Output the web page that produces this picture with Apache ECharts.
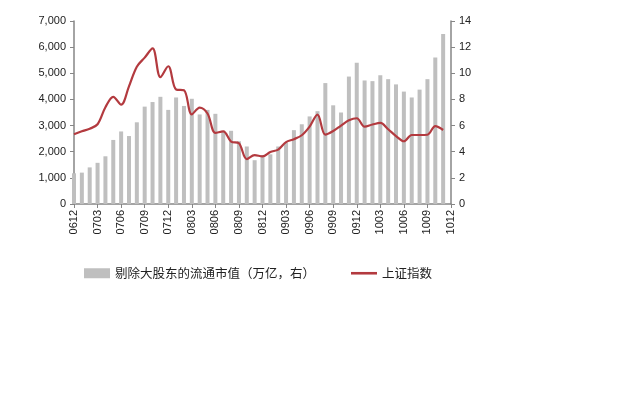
<!DOCTYPE html>
<html>
<head>
<meta charset="utf-8">
<script src="https://cdn.jsdelivr.net/npm/echarts@6/dist/echarts.min.js"></script>
<style>
  html, body { margin: 0; padding: 0; background: #fff; }
  #chart { width: 640px; height: 400px; }
</style>
</head>
<body>
<div id="chart"></div>
<script>
// months 0612 .. 1012
var months = [
    "0612",
    "0701", "0702", "0703", "0704", "0705", "0706", "0707", "0708", "0709", "0710", "0711", "0712",
    "0801", "0802", "0803", "0804", "0805", "0806", "0807", "0808", "0809", "0810", "0811", "0812",
    "0901", "0902", "0903", "0904", "0905", "0906", "0907", "0908", "0909", "0910", "0911", "0912",
    "1001", "1002", "1003", "1004", "1005", "1006", "1007", "1008", "1009", "1010", "1011", "1012"
];

// 剔除大股东的流通市值（万亿，右轴）
var floatCap = [
    2.35,
    2.4, 2.8, 3.15, 3.65, 4.9, 5.55, 5.2, 6.25, 7.45, 7.8, 8.2, 7.2,
    8.15, 7.5, 8.05, 6.85, 7.2, 6.9, 5.6, 5.6, 4.8, 4.4, 3.35, 3.75,
    3.8, 4.4, 4.7, 5.65, 6.1, 6.7, 7.1, 9.25, 7.55, 7.0, 9.75, 10.8,
    9.45, 9.4, 9.85, 9.55, 9.15, 8.6, 8.15, 8.75, 9.55, 11.2, 13.0, null
];

// 上证指数（左轴）
var shIndex = [
    2670,
    2780, 2880, 3050, 3700, 4100, 3800, 4500, 5250, 5600, 5950, 4850, 5270,
    4380, 4350, 3430, 3690, 3460, 2720, 2780, 2390, 2320, 1720, 1870, 1820,
    1990, 2080, 2370, 2480, 2630, 2960, 3420, 2650, 2790, 3000, 3200, 3280,
    2960, 3040, 3100, 2860, 2600, 2400, 2640, 2640, 2650, 2980, 2830, null
];

var chart = echarts.init(document.getElementById("chart"));

var axisColor = "#868686";
var labelFont = { color: "#222", fontSize: 11, fontFamily: "Liberation Sans" };

var option = {
    animation: false,
    grid: { left: 74, right: 189, top: 21, bottom: 196 },
    legend: {
        left: 79,
        top: 262,
        itemGap: 36,
        itemWidth: 26,
        itemHeight: 10,
        textStyle: { color: "#222", fontSize: 12.5, fontFamily: "Noto Sans CJK SC" },
        data: [
            { name: "剔除大股东的流通市值（万亿，右）", icon: "rect" },
            { name: "上证指数", icon: "path://M0,0h30v3h-30z" }
        ]
    },
    xAxis: {
        type: "category",
        data: months,
        boundaryGap: false,
        axisLine: { lineStyle: { color: axisColor, width: 1.5 } },
        axisTick: { interval: 2, length: 4, lineStyle: { color: axisColor } },
        axisLabel: Object.assign({ interval: 2, rotate: 90, margin: 6 }, labelFont)
    },
    yAxis: [
        {
            type: "value",
            min: 0,
            max: 7000,
            interval: 1000,
            splitLine: { show: false },
            axisLine: { show: true, lineStyle: { color: axisColor, width: 1.5 } },
            axisTick: { show: true, length: 4, lineStyle: { color: axisColor } },
            axisLabel: Object.assign({
                margin: 8,
                formatter: function (v) { return v.toLocaleString("en-US"); }
            }, labelFont)
        },
        {
            type: "value",
            min: 0,
            max: 14,
            interval: 2,
            position: "right",
            splitLine: { show: false },
            axisLine: { show: true, lineStyle: { color: axisColor, width: 1.5 } },
            axisTick: { show: true, length: 4, lineStyle: { color: axisColor } },
            axisLabel: Object.assign({ margin: 8 }, labelFont)
        }
    ],
    series: [
        {
            name: "剔除大股东的流通市值（万亿，右）",
            type: "bar",
            yAxisIndex: 1,
            barWidth: 4,
            itemStyle: { color: "#bfbfbf" },
            data: floatCap
        },
        {
            name: "上证指数",
            type: "line",
            yAxisIndex: 0,
            smooth: 0.35,
            showSymbol: false,
            symbol: "none",
            itemStyle: { color: "#b33a3f" },
            lineStyle: { color: "#b33a3f", width: 2.2 },
            data: shIndex
        }
    ]
};

chart.setOption(option);
</script>
</body>
</html>
